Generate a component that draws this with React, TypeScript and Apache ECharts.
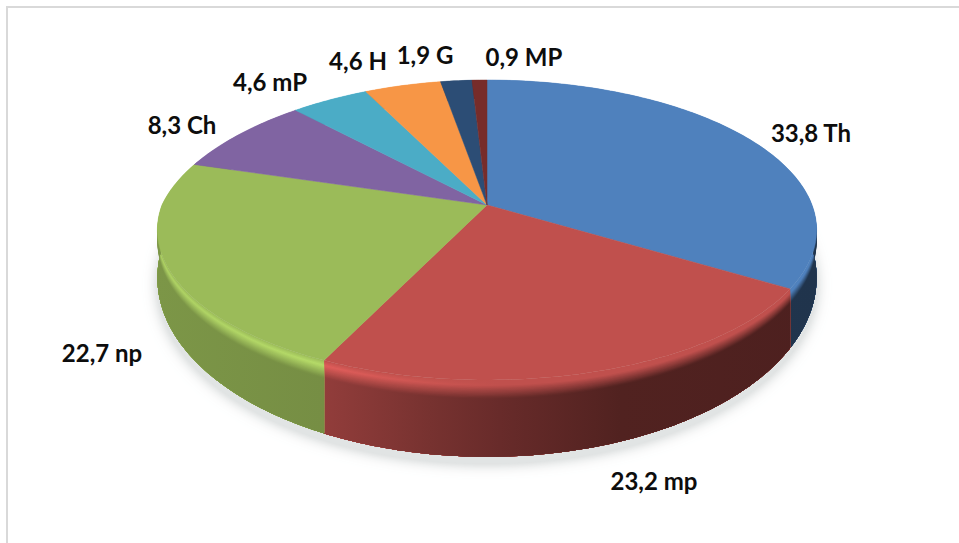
import React, { useEffect, useRef } from "react";
import * as echarts from "echarts";

// Share of each group, clockwise from twelve o'clock
const groupNames = ["Th", "mp", "np", "Ch", "mP", "H", "G", "MP"];
const groupValues = [33.8, 23.2, 22.7, 8.3, 4.6, 4.6, 1.9, 0.9];
const groupColors = [
  [79, 129, 189],
  [192, 80, 77],
  [155, 187, 89],
  [128, 100, 162],
  [75, 172, 198],
  [247, 150, 70],
  [44, 77, 117],
  [119, 44, 42],
];

// Centre of each label on the page
const labelAnchors = [
  [811, 132],
  [654, 480],
  [102, 352],
  [182, 124],
  [270, 81],
  [358, 60],
  [425, 54],
  [524, 56],
];

// Disc projection: near edge is stretched by the perspective term
const CX = 487;
const RX = 325;
const PERSPECTIVE = 1 / 6;
const BACK_LEFT_SKEW = 14;
const TOP_FACE = { cy: 205, ry: 145.8 };
const BASE_FACE = { cy: 248, ry: 174 };

// Horizontal light across the rim: [x, wall shade, rim highlight]
const lightStops = [
  [157, 0.8, 0.12],
  [323, 0.76, 0.17],
  [430, 0.62, 0.06],
  [500, 0.54, 0],
  [620, 0.42, 0],
  [820, 0.4, 0],
];
const X0 = lightStops[0][0];
const X1 = lightStops[lightStops.length - 1][0];

const HIGHLIGHT_AT = 0.07;
const BEVEL_END = 0.24;
const BEVEL_STEPS = 16;

const total = groupValues.reduce((a, b) => a + b, 0);
const startShare = (i: number) =>
  groupValues.slice(0, i).reduce((a, b) => a + b, 0) / total;

function project(turn: number, f: number) {
  const cy = TOP_FACE.cy + (BASE_FACE.cy - TOP_FACE.cy) * f;
  const ry = TOP_FACE.ry + (BASE_FACE.ry - TOP_FACE.ry) * f;
  const a = turn * Math.PI * 2;
  const u = Math.sin(a);
  const v = -Math.cos(a);
  const w = 1 - PERSPECTIVE * v;
  const skew = u < 0 && v < 0 ? BACK_LEFT_SKEW * u * v : 0;
  return [CX + (RX * u) / w + skew, cy + (ry * v) / w];
}

function arc(from: number, to: number, f: number) {
  const n = Math.max(2, Math.ceil((to - from) * 360));
  const pts: number[][] = [];
  for (let k = 0; k <= n; k++) pts.push(project(from + ((to - from) * k) / n, f));
  return pts;
}

const mix = (a: number[], b: number[], t: number) =>
  a.map((c, i) => c + (b[i] - c) * t);
const css = (c: number[]) =>
  `rgb(${c.map((v) => Math.min(255, Math.round(v))).join(",")})`;

// Colour of the rim at depth f, as a gradient running across the page
function rimFill(base: number[], f: number) {
  return {
    type: "linear",
    x: X0,
    y: 0,
    x2: X1,
    y2: 0,
    global: true,
    colorStops: lightStops.map(([x, shade, glow]) => {
      const lit = base.map((c) => c * (1 + glow));
      const wall = base.map((c) => c * shade);
      const color =
        f <= HIGHLIGHT_AT
          ? mix(base, lit, f / HIGHLIGHT_AT)
          : mix(lit, wall, Math.min(1, (f - HIGHLIGHT_AT) / (BEVEL_END - HIGHLIGHT_AT)));
      return { offset: (x - X0) / (X1 - X0), color: css(color) };
    }),
  };
}

// Rim bands are painted from the top edge down; each one runs to the bottom of
// the wall and covers the lower part of the band before it.
function sideOfSlice(params: any) {
  const i = params.dataIndex;
  const from = startShare(i);
  const to = from + groupValues[i] / total;
  const base = groupColors[i];
  const children: any[] = [];
  const band = (f0: number, fill: any) => {
    children.push({
      type: "polygon",
      shape: { points: [...arc(from, to, f0), ...arc(from, to, 1).reverse()] },
      style: { fill },
    });
  };
  for (let k = 0; k < BEVEL_STEPS; k++) {
    const f0 = (BEVEL_END * k) / BEVEL_STEPS;
    band(f0, rimFill(base, f0 + BEVEL_END / BEVEL_STEPS / 2));
  }
  band(BEVEL_END, rimFill(base, 1));
  return { type: "group", children };
}

function faceOfSlice(params: any) {
  const i = params.dataIndex;
  const from = startShare(i);
  const to = from + groupValues[i] / total;
  const fill = css(groupColors[i]);
  return {
    type: "polygon",
    shape: { points: [[CX, TOP_FACE.cy], ...arc(from, to, 0)] },
    style: { fill, stroke: fill, lineWidth: 0.5 },
  };
}

function groundShadow() {
  const pts = arc(0, 1, 1).map(([x, y]) => [x, y + 7]);
  return {
    type: "polygon",
    shape: { points: pts },
    style: {
      fill: "#e1e4e4",
      shadowBlur: 14,
      shadowColor: "rgba(190,195,195,0.95)",
    },
  };
}

function sliceLabel(params: any) {
  const i = params.dataIndex;
  const [x, y] = labelAnchors[i];
  return {
    type: "text",
    style: {
      x,
      y,
      text: `${groupValues[i].toFixed(1).replace(".", ",")} ${groupNames[i]}`,
      font: 'bold 24px Lato, "Open Sans", sans-serif',
      fill: "#0d0d0d",
      align: "center",
      verticalAlign: "middle",
    },
  };
}

const layer = (renderItem: any, data: number[]) => ({
  type: "custom",
  coordinateSystem: "none",
  silent: true,
  clip: false,
  data,
  renderItem,
});

export default function App() {
  const ref = useRef<HTMLDivElement>(null);
  useEffect(() => {
    const chart = echarts.init(ref.current!, undefined, { renderer: "svg" });
    chart.setOption({
      animation: false,
      backgroundColor: "#ffffff",
      graphic: [
        {
          type: "rect",
          shape: { x: 7, y: 7, width: 1000, height: 600 },
          style: { fill: "none", stroke: "#d9d9d9", lineWidth: 2 },
        },
      ],
      series: [
        layer(groundShadow, [total]),
        layer(sideOfSlice, groupValues),
        layer(faceOfSlice, groupValues),
        layer(sliceLabel, groupValues),
      ],
    });
    return () => chart.dispose();
  }, []);
  return (
    <div
      ref={ref}
      style={{ position: "fixed", left: 0, top: 0, width: 959, height: 543 }}
    />
  );
}
